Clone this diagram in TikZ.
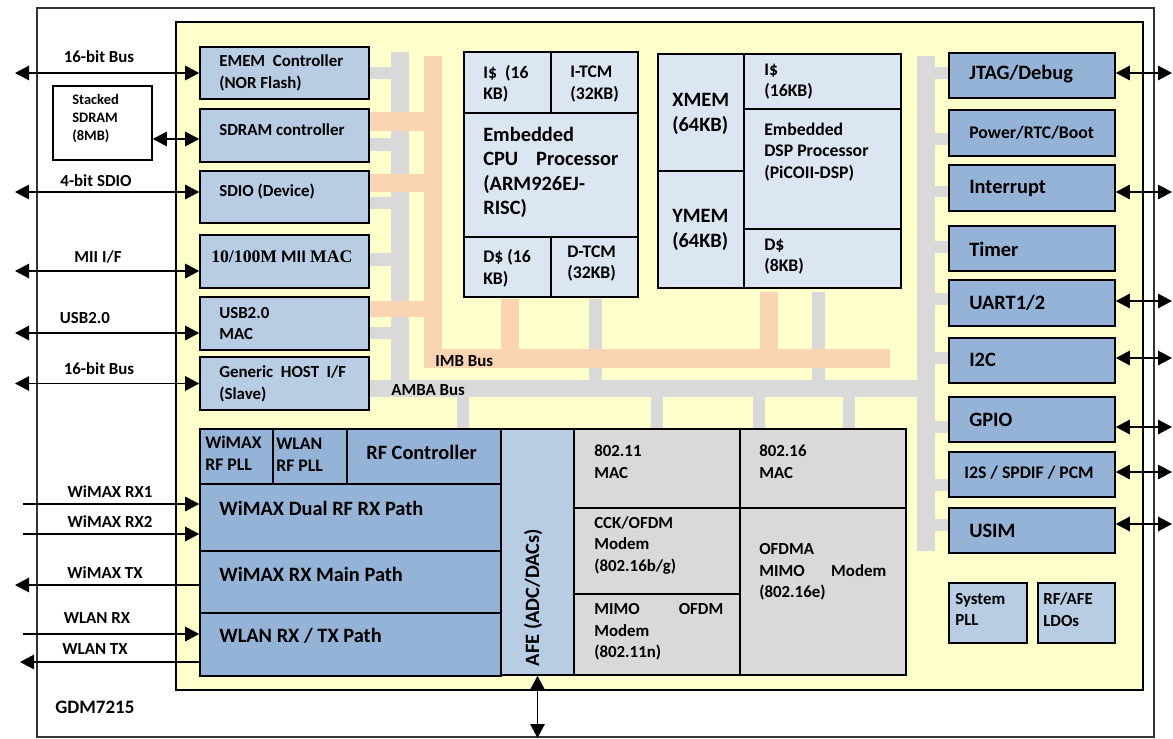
\documentclass[tikz,border=0pt]{standalone}
\usepackage{fontspec}
\setmainfont{Carlito}
\newfontfamily\timesbold{Liberation Serif}
\usepackage{tikz}
\usetikzlibrary{arrows.meta,positioning}
\definecolor{coreyellow}{RGB}{255,255,204}
\definecolor{ioblue}{RGB}{184,204,228}
\definecolor{perblue}{RGB}{149,179,215}
\definecolor{memblue}{RGB}{220,230,242}
\definecolor{macgray}{RGB}{217,217,217}
\definecolor{busgray}{RGB}{217,217,217}
\definecolor{buspeach}{RGB}{251,212,180}
\newcommand{\szbig}{\fontsize{14.5}{17.3}\selectfont}
\newcommand{\szmid}{\fontsize{12.6}{15.3}\selectfont}
\newcommand{\sznorm}{\fontsize{12}{15.4}\selectfont}
\newcommand{\szsmall}{\fontsize{10.3}{12.8}\selectfont}
\tikzset{
  gdm-frame/.style={draw=black!80, line width=0.9pt},
  gdm-core/.style={draw=black, fill=coreyellow, line width=1pt},
  gdm-block/.style={draw=black, line width=1.1pt, inner sep=0pt},
  io-block/.style={gdm-block, fill=ioblue},
  per-block/.style={gdm-block, fill=perblue},
  mem-block/.style={gdm-block, fill=memblue},
  mac-block/.style={gdm-block, fill=macgray},
  blk-text/.style={anchor=west, align=left, inner sep=0pt, font=\bfseries\sznorm},
  sig-label/.style={inner sep=0pt, font=\bfseries\sznorm},
  amba-bus/.style={fill=busgray},
  imb-bus/.style={fill=buspeach},
  bi-arrow/.style={<->, line width=1.2pt},
  one-arrow/.style={->, line width=1.2pt}
}
\begin{document}
\begin{tikzpicture}[>={Triangle[length=0.35cm,width=0.36cm]}]
  \useasboundingbox (0,0) rectangle (29.325,-18.475);
  \node[gdm-frame, minimum width=27.925cm, minimum height=18.225cm] (chip) at (14.8875,-9.3125) {};
  \node[gdm-core, minimum width=24.175cm, minimum height=16.7cm] (core) at (16.4875,-8.9) {};
  % AMBA bus
  \fill[amba-bus] (9.775,-1.3) rectangle (10.225,-9.925);
  \foreach \ya/\yb in {-1.675/-1.975, -3.45/-3.775, -4.925/-5.225, -6.325/-6.65, -8.175/-8.475}
    \fill[amba-bus] (9.225,\ya) rectangle (9.775,\yb);
  \fill[amba-bus] (9.225,-9.5) rectangle (23.375,-9.925);
  \fill[amba-bus] (22.925,-1.4) rectangle (23.375,-13.775);
  \foreach \ya/\yb in {-1.675/-1.975, -3.325/-3.625, -4.65/-4.925, -6.025/-6.325, -7.325/-7.625,
                       -8.8/-9.1, -10.525/-10.825, -11.975/-12.275, -12.975/-13.275}
    \fill[amba-bus] (23.375,\ya) rectangle (23.725,\yb);
  \foreach \xa/\xb in {11.425/11.725, 16.275/16.575, 18.825/19.125, 21.075/21.375}
    \fill[amba-bus] (\xa,-9.925) rectangle (\xb,-10.725);
  \fill[amba-bus] (14.725,-7.475) rectangle (15.05,-9.5);
  \fill[amba-bus] (20.3,-7.3) rectangle (20.625,-9.5);
  % IMB bus
  \fill[imb-bus] (10.6,-1.4) rectangle (11.05,-9.2);
  \foreach \ya/\yb in {-2.8/-3.275, -4.35/-4.8, -7.525/-7.925}
    \fill[imb-bus] (9.225,\ya) rectangle (10.6,\yb);
  \fill[imb-bus] (10.6,-8.725) rectangle (22.25,-9.2);
  \fill[imb-bus] (12.525,-7.475) rectangle (12.975,-8.725);
  \fill[imb-bus] (19.0,-7.3) rectangle (19.45,-8.725);
  \node[sig-label, anchor=west] (imb-lbl) at (10.875,-9.025) {IMB Bus};
  \node[sig-label, anchor=west] (amba-lbl) at (9.775,-9.75) {AMBA Bus};
  % host side blocks
  \node[gdm-block, fill=white, minimum width=2.475cm, minimum height=1.85cm] (stacked) at (2.5625,-3.075) {};
  \node[blk-text, font=\bfseries\szsmall] (stacked-txt) at (1.8,-2.9625) {Stacked\\SDRAM\\(8MB)};
  \node[io-block, minimum width=4.225cm, minimum height=1.3cm] (emem) at (7.1125,-1.825) {};
  \node[io-block, minimum width=4.225cm, minimum height=1.325cm] (sdram) at (7.1125,-3.3875) {};
  \node[io-block, minimum width=4.225cm, minimum height=1.3cm] (sdio) at (7.1125,-4.925) {};
  \node[io-block, minimum width=4.225cm, minimum height=1.325cm] (mii) at (7.1125,-6.5375) {};
  \node[io-block, minimum width=4.225cm, minimum height=1.325cm] (usb) at (7.1125,-8.0875) {};
  \node[io-block, minimum width=4.225cm, minimum height=1.325cm] (host) at (7.1125,-9.5875) {};
  \node[blk-text] (emem-txt) at (5.475,-1.825) {EMEM~~Controller\\(NOR Flash)};
  \node[blk-text] (sdram-txt) at (5.475,-3.25) {SDRAM controller};
  \node[blk-text] (sdio-txt) at (5.475,-4.8) {SDIO (Device)};
  \node[blk-text, font=\bfseries\szmid] (mii-txt) at (5.275,-6.425) {{\timesbold 10/100M} MII {\timesbold MAC}};
  \node[blk-text] (usb-txt) at (5.475,-8.0875) {USB2.0\\MAC};
  \node[blk-text] (host-txt) at (5.475,-9.6) {Generic~~HOST~~I/F\\(Slave)};
  % CPU subsystem
  \node[mem-block, minimum width=2.175cm, minimum height=1.525cm] (cpu-i) at (12.6875,-2.0625) {};
  \node[mem-block, minimum width=2.175cm, minimum height=1.525cm] (cpu-itcm) at (14.8625,-2.0625) {};
  \node[mem-block, minimum width=4.35cm, minimum height=3.1cm] (cpu-core) at (13.775,-4.375) {};
  \node[mem-block, minimum width=2.175cm, minimum height=1.5cm] (cpu-d) at (12.6875,-6.675) {};
  \node[mem-block, minimum width=2.175cm, minimum height=1.5cm] (cpu-dtcm) at (14.8625,-6.675) {};
  \node[blk-text, font=\bfseries\szmid] (cpu-i-txt) at (12.075,-2.1) {I\$~~(16\\KB)};
  \node[blk-text, font=\bfseries\szmid] (cpu-itcm-txt) at (14.25,-2.1) {I-TCM\\(32KB)};
  \node[blk-text, font=\bfseries\szbig, text width=3.375cm] (cpu-core-txt) at (12.075,-4.3125)
    {Embedded\\CPU\hfill Processor\\(ARM926EJ-\\RISC)};
  \node[blk-text, font=\bfseries\szmid] (cpu-d-txt) at (12.075,-6.7125) {D\$ (16\\KB)};
  \node[blk-text, font=\bfseries\szmid] (cpu-dtcm-txt) at (14.175,-6.5875) {D-TCM\\(32KB)};
  % DSP subsystem
  \node[mem-block, minimum width=2.15cm, minimum height=2.925cm] (xmem) at (17.525,-2.8125) {};
  \node[mem-block, minimum width=2.15cm, minimum height=2.925cm] (ymem) at (17.525,-5.7375) {};
  \node[mem-block, minimum width=3.925cm, minimum height=1.375cm] (dsp-i) at (20.5625,-2.0375) {};
  \node[mem-block, minimum width=3.925cm, minimum height=3.0cm] (dsp-core) at (20.5625,-4.225) {};
  \node[mem-block, minimum width=3.925cm, minimum height=1.475cm] (dsp-d) at (20.5625,-6.4625) {};
  \node[blk-text, font=\bfseries\szbig] (xmem-txt) at (16.8,-2.85) {XMEM\\(64KB)};
  \node[blk-text, font=\bfseries\szbig] (ymem-txt) at (16.8,-5.75) {YMEM\\(64KB)};
  \node[blk-text, font=\bfseries\szmid] (dsp-i-txt) at (19.1,-2.0375) {I\$\\(16KB)};
  \node[blk-text, font=\bfseries\szmid] (dsp-core-txt) at (19.1,-3.8) {Embedded\\DSP Processor\\(PiCOII-DSP)};
  \node[blk-text, font=\bfseries\szmid] (dsp-d-txt) at (19.1,-6.4125) {D\$\\(8KB)};
  % peripherals
  \node[per-block, minimum width=4.15cm, minimum height=1.125cm] (jtag) at (25.8,-1.8875) {};
  \node[per-block, minimum width=4.15cm, minimum height=1.15cm] (power) at (25.8,-3.325) {};
  \node[per-block, minimum width=4.15cm, minimum height=1.15cm] (irq) at (25.8,-4.7) {};
  \node[per-block, minimum width=4.15cm, minimum height=1.125cm] (timer) at (25.8,-6.2125) {};
  \node[per-block, minimum width=4.15cm, minimum height=1.15cm] (uart) at (25.8,-7.575) {};
  \node[per-block, minimum width=4.15cm, minimum height=1.125cm] (i2c) at (25.8,-9.0125) {};
  \node[per-block, minimum width=4.15cm, minimum height=1.125cm] (gpio) at (25.8,-10.4875) {};
  \node[per-block, minimum width=4.15cm, minimum height=1.125cm] (i2s) at (25.8,-11.8625) {};
  \node[per-block, minimum width=4.15cm, minimum height=1.125cm] (usim) at (25.8,-13.2625) {};
  \node[blk-text, font=\bfseries\szbig] (jtag-txt) at (24.225,-1.85) {JTAG/Debug};
  \node[blk-text, font=\bfseries\szmid] (power-txt) at (24.225,-3.325) {Power/RTC/Boot};
  \node[blk-text, font=\bfseries\szbig] (irq-txt) at (24.225,-4.7) {Interrupt};
  \node[blk-text, font=\bfseries\szbig] (timer-txt) at (24.225,-6.225) {Timer};
  \node[blk-text, font=\bfseries\szbig] (uart-txt) at (24.225,-7.575) {UART1/2};
  \node[blk-text, font=\bfseries\szbig] (i2c-txt) at (24.225,-9.0) {I2C};
  \node[blk-text, font=\bfseries\szbig] (gpio-txt) at (24.225,-10.5) {GPIO};
  \node[blk-text, font=\bfseries\szmid] (i2s-txt) at (24.1,-11.825) {I2S / SPDIF / PCM};
  \node[blk-text, font=\bfseries\szbig] (usim-txt) at (24.225,-13.275) {USIM};
  \node[io-block, minimum width=1.95cm, minimum height=1.5cm] (syspll) at (24.7,-15.325) {};
  \node[io-block, minimum width=1.925cm, minimum height=1.5cm] (ldo) at (26.9125,-15.325) {};
  \node[blk-text] (syspll-txt) at (23.875,-15.2375) {System\\PLL};
  \node[blk-text] (ldo-txt) at (26.075,-15.2375) {RF/AFE\\LDOs};
  % RF front end
  \node[per-block, minimum width=1.825cm, minimum height=1.375cm] (wmxpll) at (5.9125,-11.4125) {};
  \node[per-block, minimum width=1.85cm, minimum height=1.375cm] (wlanpll) at (7.75,-11.4125) {};
  \node[per-block, minimum width=3.85cm, minimum height=1.375cm] (rfctrl) at (10.6,-11.4125) {};
  \node[per-block, minimum width=7.525cm, minimum height=1.675cm] (rxdual) at (8.7625,-12.9375) {};
  \node[per-block, minimum width=7.525cm, minimum height=1.55cm] (rxmain) at (8.7625,-14.55) {};
  \node[per-block, minimum width=7.525cm, minimum height=1.575cm] (wlanpath) at (8.7625,-16.1125) {};
  \node[blk-text, font=\bfseries\szmid] (wmxpll-txt) at (5.125,-11.3375) {WiMAX\\RF PLL};
  \node[blk-text, font=\bfseries\szmid] (wlanpll-txt) at (6.9,-11.375) {WLAN\\RF PLL};
  \node[blk-text, font=\bfseries\szbig] (rfctrl-txt) at (9.15,-11.3) {RF Controller};
  \node[blk-text, font=\bfseries\szbig] (rxdual-txt) at (5.475,-12.7) {WiMAX Dual RF RX Path};
  \node[blk-text, font=\bfseries\szbig] (rxmain-txt) at (5.475,-14.35) {WiMAX RX Main Path};
  \node[blk-text, font=\bfseries\szbig] (wlanpath-txt) at (5.475,-15.9) {WLAN RX / TX Path};
  \node[io-block, minimum width=1.825cm, minimum height=6.15cm] (afe) at (13.4375,-13.8) {};
  \node[blk-text, anchor=center, rotate=90, font=\bfseries\szbig] (afe-txt) at (13.325,-14.9375) {AFE (ADC/DACs)};
  % MAC and modems
  \node[mac-block, minimum width=4.15cm, minimum height=1.975cm] (mac11) at (16.425,-11.7125) {};
  \node[mac-block, minimum width=4.15cm, minimum height=1.975cm] (mac16) at (20.575,-11.7125) {};
  \node[mac-block, minimum width=4.15cm, minimum height=2.15cm] (cck) at (16.425,-13.775) {};
  \node[mac-block, minimum width=4.15cm, minimum height=2.025cm] (mimo11) at (16.425,-15.8625) {};
  \node[mac-block, minimum width=4.15cm, minimum height=4.175cm] (ofdma) at (20.575,-14.7875) {};
  \node[blk-text] (mac11-txt) at (14.85,-11.5375) {802.11\\MAC};
  \node[blk-text] (mac16-txt) at (18.975,-11.5375) {802.16\\MAC};
  \node[blk-text] (cck-txt) at (14.85,-13.6375) {CCK/OFDM\\Modem\\(802.16b/g)};
  \node[blk-text, text width=3.225cm] (mimo11-txt) at (14.85,-15.8) {MIMO\hfill OFDM\\Modem\\(802.11n)};
  \node[blk-text, text width=3.175cm] (ofdma-txt) at (18.975,-14.3) {OFDMA\\MIMO\hfill Modem\\(802.16e)};
  \node[blk-text, font=\bfseries\fontsize{13.5}{16}\selectfont] (chip-name) at (1.375,-17.675) {GDM7215};
  % external signals
  \coordinate (ledge) at (0.375,0);
  \coordinate (lstart) at (0.575,0);
  \coordinate (ltip) at (0.5,0);
  \coordinate (redge) at (29.3,0);
  \coordinate (bedge) at (0,-18.45);
  \foreach \blk/\dy in {emem/0, sdio/0.125, mii/-0.2375, usb/-0.2375, host/0} {
    \coordinate (\blk-io) at ([yshift=\dy cm]\blk.west);
    \draw[bi-arrow] (ledge |- \blk-io) -- (\blk-io);
  }
  \draw[bi-arrow] ([yshift=-0.4cm]stacked.east) -- ([yshift=-0.0875cm]sdram.west);
  \foreach \blk/\dy in {jtag/0.0625, irq/-0.1, uart/0.05, i2c/0.0625, gpio/-0.1875, i2s/0.0625, usim/0.1625} {
    \coordinate (\blk-io) at ([yshift=\dy cm]\blk.east);
    \draw[bi-arrow] (\blk-io) -- (redge |- \blk-io);
  }
  \foreach \sig/\blk/\dy in {rx1/rxdual/0.3375, rx2/rxdual/-0.4125, wlrx/wlanpath/0.2625} {
    \coordinate (\sig) at ([yshift=\dy cm]\blk.west);
    \draw[one-arrow] (lstart |- \sig) -- (\sig);
  }
  \coordinate (wmxtx) at ([yshift=-0.075cm]rxmain.west);
  \draw[one-arrow] (wmxtx) -- (ledge |- wmxtx);
  \coordinate (wltx) at ([yshift=-0.4375cm]wlanpath.west);
  \draw[one-arrow] (wltx) -- (ltip |- wltx);
  \draw[bi-arrow] (afe.south) -- (afe.south |- bedge);
  \node[sig-label] (bus1-lbl) at (2.475,-1.425) {16-bit Bus};
  \node[sig-label] (sdio-lbl) at (2.4,-4.525) {4-bit SDIO};
  \node[sig-label] (mii-lbl) at (2.45,-6.425) {MII I/F};
  \node[sig-label] (usb-lbl) at (2.125,-7.95) {USB2.0};
  \node[sig-label] (bus2-lbl) at (2.475,-9.225) {16-bit Bus};
  \node[sig-label] (rx1-lbl) at (2.75,-12.3) {WiMAX RX1};
  \node[sig-label] (rx2-lbl) at (2.75,-13.05) {WiMAX RX2};
  \node[sig-label] (tx-lbl) at (2.625,-14.325) {WiMAX TX};
  \node[sig-label] (wlrx-lbl) at (2.425,-15.45) {WLAN RX};
  \node[sig-label] (wltx-lbl) at (2.375,-16.225) {WLAN TX};
\end{tikzpicture}
\end{document}
